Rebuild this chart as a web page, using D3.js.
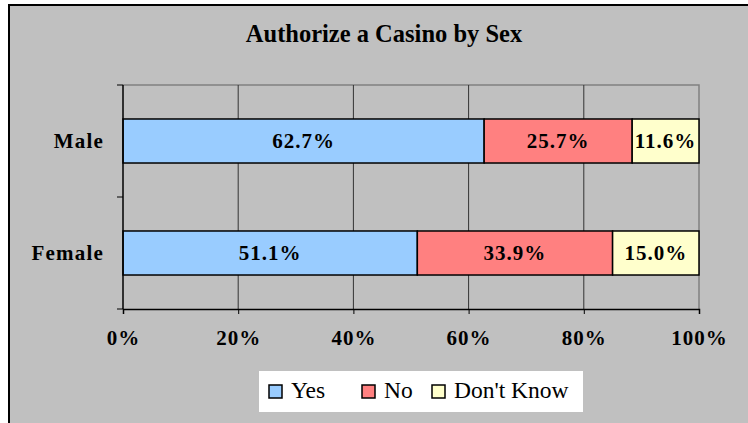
<!DOCTYPE html>
<html>
<head>
<meta charset="utf-8">
<script src="https://cdn.jsdelivr.net/npm/d3@7/dist/d3.min.js"></script>
<style>
  html, body { margin: 0; padding: 0; background: #ffffff; }
  svg { display: block; }
</style>
</head>
<body>
<svg id="chart" width="748" height="423"></svg>
<script>
const title = "Authorize a Casino by Sex";
const categories = ["Male", "Female"];
const seriesNames = ["Yes", "No", "Don't Know"];
const seriesColors = ["#99CCFF", "#FF8080", "#FFFFCC"];
const yesValues = [62.7, 51.1];
const noValues = [25.7, 33.9];
const dontKnowValues = [11.6, 15.0];
const xTicks = [0, 20, 40, 60, 80, 100];

const seriesValues = [yesValues, noValues, dontKnowValues];
const rows = categories.map((c, i) => {
  const r = { category: c };
  seriesNames.forEach((s, j) => r[s] = seriesValues[j][i]);
  return r;
});
const stacked = d3.stack().keys(seriesNames)(rows);

const svg = d3.select("#chart");
const serif = "'Liberation Serif', 'Times New Roman', serif";

// chart area background + border
svg.append("rect").attr("x", 9).attr("y", 5).attr("width", 760).attr("height", 430)
  .attr("fill", "#C0C0C0").attr("stroke", "#000").attr("stroke-width", 2);

const plot = { left: 123, right: 699, top: 85, bottom: 309 };
const x = d3.scaleLinear().domain([0, 100]).range([plot.left, plot.right]);
const y = d3.scaleBand().domain(categories).range([plot.top, plot.bottom])
  .paddingInner(0.607).paddingOuter(0.3035);
const yOuter = d3.scaleBand().domain(categories).range([plot.top, plot.bottom]);

// plot border (top / right grey)
svg.append("path")
  .attr("d", `M${plot.left},${plot.top}H${plot.right}V${plot.bottom}`)
  .attr("fill", "none").attr("stroke", "#808080").attr("stroke-width", 1.5);

// gridlines
svg.append("g").selectAll("line").data(xTicks.filter(t => t > 0 && t < 100)).join("line")
  .attr("x1", d => x(d)).attr("x2", d => x(d))
  .attr("y1", plot.top).attr("y2", plot.bottom)
  .attr("stroke", "#333").attr("stroke-width", 1);

// bars
const layers = svg.append("g").selectAll("g").data(stacked).join("g")
  .attr("fill", (d, i) => seriesColors[i]);
layers.selectAll("rect").data(d => d).join("rect")
  .attr("x", d => x(d[0]))
  .attr("width", d => x(d[1]) - x(d[0]))
  .attr("y", d => y(d.data.category))
  .attr("height", y.bandwidth())
  .attr("stroke", "#000").attr("stroke-width", 1.5);

// value labels
layers.selectAll("text").data(d => d.map(v => ({ v, val: v[1] - v[0] }))).join("text")
  .attr("x", d => (x(d.v[0]) + x(d.v[1])) / 2)
  .attr("y", d => y(d.v.data.category) + y.bandwidth() / 2 + 7)
  .attr("text-anchor", "middle")
  .attr("fill", "#000")
  .attr("font-family", serif).attr("font-weight", "bold").attr("font-size", 21)
  .attr("letter-spacing", 1)
  .text(d => d.val.toFixed(1) + "%");

// x axis
const xAxis = svg.append("g").attr("transform", `translate(0,${plot.bottom})`)
  .call(d3.axisBottom(x).tickValues(xTicks).tickSize(5).tickFormat(d => d + "%"));
xAxis.select(".domain").attr("stroke", "#000").attr("stroke-width", 1.5);
xAxis.selectAll(".tick line").attr("stroke", "#000");
xAxis.selectAll("text")
  .attr("y", 36).attr("dy", 0)
  .attr("font-family", serif).attr("font-weight", "bold").attr("font-size", 21)
  .attr("letter-spacing", 1).attr("fill", "#000");

// y axis: ticks at band boundaries
const yBoundaries = categories.map(c => yOuter(c)).concat([plot.bottom]);
svg.append("line").attr("x1", plot.left).attr("x2", plot.left)
  .attr("y1", plot.top).attr("y2", plot.bottom)
  .attr("stroke", "#000").attr("stroke-width", 1.5);
svg.append("g").selectAll("line").data(yBoundaries).join("line")
  .attr("x1", plot.left - 6).attr("x2", plot.left)
  .attr("y1", d => d).attr("y2", d => d)
  .attr("stroke", "#000").attr("stroke-width", 1);
svg.append("g").selectAll("text").data(categories).join("text")
  .attr("x", 104)
  .attr("y", d => y(d) + y.bandwidth() / 2 + 7)
  .attr("text-anchor", "end")
  .attr("font-family", serif).attr("font-weight", "bold").attr("font-size", 21)
  .attr("letter-spacing", 1.2)
  .text(d => d);

// title
svg.append("text").attr("x", 384).attr("y", 41.5).attr("text-anchor", "middle")
  .attr("font-family", serif).attr("font-weight", "bold").attr("font-size", 24.5)
  .text(title);

// legend
const legend = svg.append("g");
legend.append("rect").attr("x", 259).attr("y", 371).attr("width", 324).attr("height", 41)
  .attr("fill", "#fff");
const legendSwatchX = [269, 362, 432];
const legendItems = legend.selectAll("g").data(seriesNames).join("g")
  .attr("transform", (d, i) => `translate(${legendSwatchX[i]},385)`);
legendItems.append("rect").attr("width", 13).attr("height", 13)
  .attr("fill", (d, i) => seriesColors[i]).attr("stroke", "#000").attr("stroke-width", 1.5);
legendItems.append("text").attr("x", 22).attr("y", 13)
  .attr("font-family", serif).attr("font-size", 23.5)
  .text(d => d);
</script>
</body>
</html>
